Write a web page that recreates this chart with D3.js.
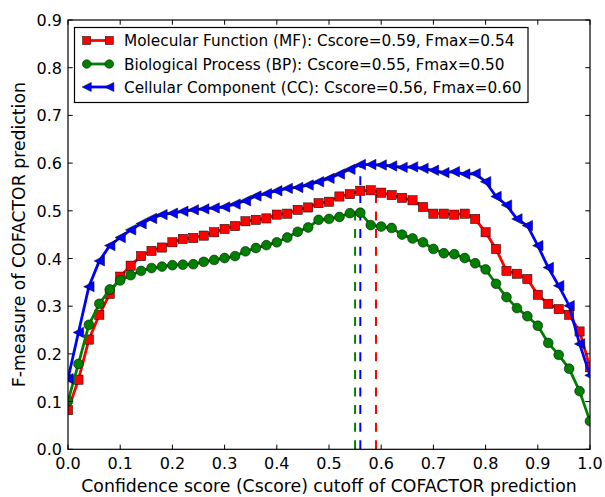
<!DOCTYPE html>
<html><head><meta charset="utf-8">
<script src="https://cdn.jsdelivr.net/npm/d3@7"></script>
<style>body{margin:0;background:#fff}svg{display:block;font-family:"DejaVu Sans",sans-serif}</style>
</head><body><svg id="c" width="605" height="497"></svg>
<script>
const cutoffs = d3.range(51).map(i => +(i * 0.02).toFixed(2));
const mfValues = [0.082,0.146,0.230,0.282,0.326,0.362,0.385,0.405,0.416,0.423,0.434,0.441,0.443,0.448,0.455,0.462,0.468,0.478,0.481,0.484,0.492,0.494,0.502,0.507,0.516,0.519,0.530,0.535,0.542,0.543,0.538,0.533,0.527,0.522,0.508,0.494,0.494,0.492,0.494,0.483,0.455,0.420,0.374,0.368,0.357,0.324,0.305,0.294,0.282,0.247,0.172];
const bpValues = [0.101,0.179,0.261,0.305,0.335,0.354,0.365,0.374,0.380,0.383,0.386,0.387,0.388,0.393,0.397,0.401,0.405,0.415,0.422,0.428,0.434,0.444,0.456,0.465,0.481,0.483,0.487,0.495,0.496,0.470,0.467,0.464,0.450,0.442,0.434,0.420,0.411,0.409,0.401,0.390,0.377,0.347,0.319,0.296,0.279,0.259,0.223,0.198,0.169,0.122,0.059];
const ccValues = [0.148,0.245,0.341,0.395,0.427,0.444,0.460,0.473,0.484,0.492,0.495,0.499,0.502,0.504,0.506,0.508,0.514,0.521,0.531,0.536,0.542,0.547,0.549,0.554,0.561,0.568,0.577,0.587,0.597,0.597,0.596,0.594,0.591,0.592,0.589,0.585,0.580,0.582,0.577,0.578,0.561,0.530,0.512,0.483,0.469,0.427,0.381,0.343,0.301,0.221,0.155];
const seriesNames = ["Molecular Function (MF): Cscore=0.59, Fmax=0.54","Biological Process (BP): Cscore=0.55, Fmax=0.50","Cellular Component (CC): Cscore=0.56, Fmax=0.60"];
const cscores = [0.59, 0.55, 0.56];
const fmaxes = [0.54, 0.50, 0.60];
const colors = ["#ff0000", "#008000", "#0000ff"];
const markers = ["square", "circle", "triangle"];
const xTicks = [0,0.1,0.2,0.3,0.4,0.5,0.6,0.7,0.8,0.9,1.0];
const yTicks = [0,0.1,0.2,0.3,0.4,0.5,0.6,0.7,0.8,0.9];
const xLabel = "Confidence score (Cscore) cutoff of COFACTOR prediction";
const yLabel = "F-measure of COFACTOR prediction";

const allValues = [mfValues, bpValues, ccValues];
const svg = d3.select("#c");
const L = 68, R = 590, T = 20, B = 449.3;
const x = d3.scaleLinear().domain([0, 1]).range([L, R]);
const y = d3.scaleLinear().domain([0, 0.9]).range([B, T]);

svg.append("defs").append("clipPath").attr("id", "clip")
  .append("rect").attr("x", L).attr("y", T).attr("width", R - L).attr("height", B - T);

const plot = svg.append("g").attr("clip-path", "url(#clip)");

// dashed Cscore lines
cscores.forEach((c, i) => {
  plot.append("line").attr("x1", x(c)).attr("x2", x(c)).attr("y1", y(0)).attr("y2", y(fmaxes[i]))
    .attr("stroke", colors[i]).attr("stroke-width", 2).attr("stroke-dasharray", "9,8.6");
});

function drawMarker(g, type, color, cx, cy, scale) {
  const s = scale || 1;
  if (type === "square") {
    const h = 4.6 * s;
    g.append("rect").attr("x", cx - h).attr("y", cy - h).attr("width", 2 * h).attr("height", 2 * h)
      .attr("fill", color).attr("stroke", "#000").attr("stroke-width", 0.5);
  } else if (type === "circle") {
    g.append("circle").attr("cx", cx).attr("cy", cy).attr("r", 4.9 * s)
      .attr("fill", color).attr("stroke", "#000").attr("stroke-width", 0.5);
  } else {
    const w = 5.2 * s;
    g.append("path").attr("d", `M${cx - w},${cy}L${cx + w},${cy - w}L${cx + w},${cy + w}Z`)
      .attr("fill", color).attr("stroke", "#000").attr("stroke-width", 0.5);
  }
}

const line = d3.line().x((d, i) => x(cutoffs[i])).y(d => y(d));
allValues.forEach((vals, si) => {
  const g = plot.append("g");
  g.append("path").datum(vals).attr("d", line).attr("fill", "none")
    .attr("stroke", colors[si]).attr("stroke-width", 2.8).attr("stroke-linejoin", "round");
  vals.forEach((v, i) => drawMarker(g, markers[si], colors[si], x(cutoffs[i]), y(v)));
});

// frame
svg.append("rect").attr("x", L).attr("y", T).attr("width", R - L).attr("height", B - T)
  .attr("fill", "none").attr("stroke", "#000").attr("stroke-width", 1.2);

// ticks (inward, all four sides)
const tk = 4.7;
xTicks.forEach(t => {
  const px = x(t);
  svg.append("line").attr("x1", px).attr("x2", px).attr("y1", B).attr("y2", B - tk).attr("stroke", "#000");
  svg.append("line").attr("x1", px).attr("x2", px).attr("y1", T).attr("y2", T + tk).attr("stroke", "#000");
  svg.append("text").attr("x", px).attr("y", 469).attr("text-anchor", "middle")
    .attr("font-size", 16).text(t.toFixed(1));
});
yTicks.forEach(t => {
  const py = y(t);
  svg.append("line").attr("x1", L).attr("x2", L + tk).attr("y1", py).attr("y2", py).attr("stroke", "#000");
  svg.append("line").attr("x1", R).attr("x2", R - tk).attr("y1", py).attr("y2", py).attr("stroke", "#000");
  svg.append("text").attr("x", 62).attr("y", py + 6).attr("text-anchor", "end")
    .attr("font-size", 16).text(t.toFixed(1));
});

svg.append("text").attr("x", (L + R) / 2).attr("y", 492).attr("text-anchor", "middle")
  .attr("font-size", 17.3).text(xLabel);
svg.append("text").attr("transform", `translate(25,${(T + B) / 2}) rotate(-90)`).attr("text-anchor", "middle")
  .attr("font-size", 17.3).text(yLabel);

// legend
const lg = svg.append("g");
lg.append("rect").attr("x", 74.5).attr("y", 27.5).attr("width", 453.5).attr("height", 75)
  .attr("fill", "#fff").attr("stroke", "#000").attr("stroke-width", 1.2);
const rowY = [40.5, 64, 87];
seriesNames.forEach((name, i) => {
  const yy = rowY[i];
  lg.append("line").attr("x1", 86.7).attr("x2", 109.3).attr("y1", yy).attr("y2", yy)
    .attr("stroke", colors[i]).attr("stroke-width", 2.8);
  drawMarker(lg, markers[i], colors[i], 86.7, yy, 0.88);
  drawMarker(lg, markers[i], colors[i], 109.3, yy, 0.88);
  lg.append("text").attr("x", 124).attr("y", yy + 5.5).attr("font-size", 15.3).text(name);
});
</script></body></html>
